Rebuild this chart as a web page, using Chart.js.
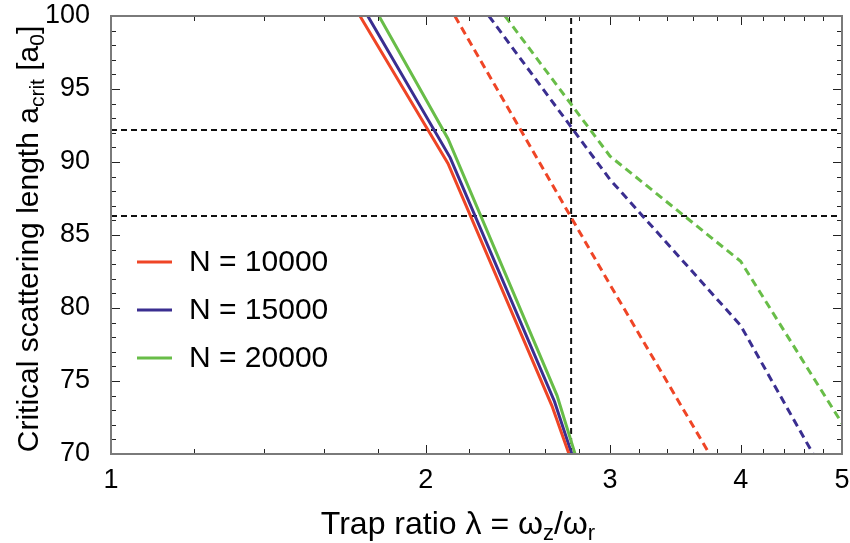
<!DOCTYPE html>
<html>
<head>
<meta charset="utf-8">
<script src="https://cdn.jsdelivr.net/npm/chart.js@4.4.0/dist/chart.umd.min.js"></script>
<style>
  html, body { margin: 0; padding: 0; background: #fff; }
</style>
</head>
<body>
<canvas id="chart" width="850" height="543"></canvas>
<script>
// Critical scattering length vs trap ratio, for three atom numbers
var seriesNames = ['N = 10000', 'N = 15000', 'N = 20000'];
var seriesColors = ['#ef4526', '#3a2e90', '#68bd48'];

// solid curves
var solid10kX = [1.73, 2.10, 2.64, 2.741];
var solid10kY = [100, 89.9, 73.3, 70];
var solid15kX = [1.76, 2.11, 2.655, 2.758];
var solid15kY = [100, 90.3, 73.6, 70];
var solid20kX = [1.804, 2.10, 2.67, 2.778];
var solid20kY = [100, 91.6, 74.0, 70];

// dashed curves
var dashed10kX = [2.132, 3, 3.735];
var dashed10kY = [100, 81.6, 70];
var dashed15kX = [2.298, 3, 4, 4.692];
var dashed15kY = [100, 88.8, 78.8, 70];
var dashed20kX = [2.381, 3, 4, 5];
var dashed20kY = [100, 90.4, 83.2, 72.1];

// guide lines
var guideLevels = [92.2, 86.3];
var guideLambda = 2.754;

// axis ticks
var xMajorTicks = [1, 2, 3, 4, 5];
var xMinorTicks = [1.2, 1.4, 1.6, 1.8, 2.2, 2.4, 2.6, 2.8, 3.2, 3.4, 3.6, 3.8, 4.2, 4.4, 4.6, 4.8];
var yMajorTicks = [70, 75, 80, 85, 90, 95, 100];

var FONT = '"Liberation Sans", Arial, Helvetica, sans-serif';

function toPoints(xs, ys) {
  return xs.map(function (x, i) { return { x: x, y: ys[i] }; });
}

function curve(xs, ys, color, dashed) {
  return {
    data: toPoints(xs, ys),
    borderColor: color,
    borderWidth: 3,
    borderDash: dashed ? [8, 5] : [],
    pointRadius: 0,
    tension: 0,
    clip: 0
  };
}

function guide(points) {
  return {
    data: points,
    borderColor: '#111',
    borderWidth: 2,
    borderDash: [6, 4],
    pointRadius: 0,
    clip: 0
  };
}

var datasets = [
  curve(solid10kX, solid10kY, seriesColors[0], false),
  curve(solid15kX, solid15kY, seriesColors[1], false),
  curve(solid20kX, solid20kY, seriesColors[2], false),
  curve(dashed10kX, dashed10kY, seriesColors[0], true),
  curve(dashed15kX, dashed15kY, seriesColors[1], true),
  curve(dashed20kX, dashed20kY, seriesColors[2], true),
  guide([{ x: 1, y: guideLevels[0] }, { x: 5, y: guideLevels[0] }]),
  guide([{ x: 1, y: guideLevels[1] }, { x: 5, y: guideLevels[1] }]),
  guide([{ x: guideLambda, y: 70 }, { x: guideLambda, y: 100 }])
];

// draws text pieces in a row, smaller pieces dropped as subscripts
function drawRich(ctx, parts, x, y) {
  parts.forEach(function (p) {
    ctx.font = p[1] + 'px ' + FONT;
    ctx.fillText(p[0], x, y + p[2]);
    x += ctx.measureText(p[0]).width;
  });
}

function richWidth(ctx, parts) {
  var w = 0;
  parts.forEach(function (p) { ctx.font = p[1] + 'px ' + FONT; w += ctx.measureText(p[0]).width; });
  return w;
}

// frame with inward ticks, axis titles and legend
var decorations = {
  id: 'decorations',
  afterDatasetsDraw: function (chart) {
    var ctx = chart.ctx;
    var a = chart.chartArea;
    var xs = chart.scales.x;
    var ys = chart.scales.y;
    ctx.save();

    ctx.strokeStyle = '#222';
    ctx.lineWidth = 1;
    ctx.beginPath();
    function xTick(v, len) {
      var px = Math.round(xs.getPixelForValue(v)) + 0.5;
      ctx.moveTo(px, a.bottom); ctx.lineTo(px, a.bottom - len);
      ctx.moveTo(px, a.top); ctx.lineTo(px, a.top + len);
    }
    function yTick(v, len) {
      var py = Math.round(ys.getPixelForValue(v)) + 0.5;
      ctx.moveTo(a.left, py); ctx.lineTo(a.left + len, py);
      ctx.moveTo(a.right, py); ctx.lineTo(a.right - len, py);
    }
    xMajorTicks.forEach(function (v) { xTick(v, 9); });
    xMinorTicks.forEach(function (v) { xTick(v, 5); });
    for (var v = 70; v <= 100; v++) {
      yTick(v, yMajorTicks.indexOf(v) >= 0 ? 9 : 5);
    }
    ctx.stroke();

    ctx.strokeStyle = '#7a7a7a';
    ctx.lineWidth = 2;
    ctx.strokeRect(a.left, a.top, a.right - a.left, a.bottom - a.top);

    // legend
    ctx.font = '30px ' + FONT;
    ctx.textBaseline = 'middle';
    ctx.textAlign = 'left';
    seriesNames.forEach(function (name, i) {
      var y = 262 + i * 48;
      ctx.strokeStyle = seriesColors[i];
      ctx.lineWidth = 3;
      ctx.beginPath();
      ctx.moveTo(137, y); ctx.lineTo(172, y);
      ctx.stroke();
      ctx.fillStyle = '#000';
      ctx.fillText(name, 189, y + 1);
    });

    // x title: Trap ratio λ = ωz/ωr
    ctx.fillStyle = '#000';
    ctx.textBaseline = 'alphabetic';
    var xparts = [
      ['Trap ratio \u03bb = \u03c9', 32, 0],
      ['z', 22, 6],
      ['/\u03c9', 32, 0],
      ['r', 22, 6]
    ];
    drawRich(ctx, xparts, 458 - richWidth(ctx, xparts) / 2, 534);

    // y title: Critical scattering length a_crit [a_0]
    ctx.save();
    ctx.translate(38, 239);
    ctx.rotate(-Math.PI / 2);
    var yparts = [
      ['Critical scattering length a', 30, 0],
      ['crit', 21, 6],
      [' [a', 30, 0],
      ['0', 21, 6],
      [']', 30, 0]
    ];
    drawRich(ctx, yparts, -richWidth(ctx, yparts) / 2, 0);
    ctx.restore();

    ctx.restore();
  }
};

new Chart(document.getElementById('chart'), {
  type: 'line',
  data: { datasets: datasets },
  plugins: [decorations],
  options: {
    responsive: false,
    animation: false,
    layout: { padding: { top: 16, right: 8, left: 0, bottom: 0 } },
    plugins: { legend: { display: false }, tooltip: { enabled: false } },
    scales: {
      x: {
        type: 'logarithmic',
        min: 1,
        max: 5,
        grid: { display: false },
        border: { display: false },
        afterBuildTicks: function (scale) {
          scale.ticks = xMajorTicks.map(function (v) { return { value: v }; });
        },
        afterFit: function (scale) {
          scale.height = 89;
          scale.paddingLeft = 0;
          scale.paddingRight = 0;
        },
        ticks: {
          color: '#000',
          padding: 2,
          maxRotation: 0,
          autoSkip: false,
          font: { family: FONT, size: 27 },
          callback: function (v) { return String(v); }
        }
      },
      y: {
        type: 'linear',
        min: 70,
        max: 100,
        grid: { display: false },
        border: { display: false },
        afterBuildTicks: function (scale) {
          scale.ticks = yMajorTicks.map(function (v) { return { value: v }; });
        },
        afterFit: function (scale) {
          scale.width = 111;
          scale.paddingTop = 0;
          scale.paddingBottom = 0;
        },
        ticks: {
          color: '#000',
          padding: 13,
          font: { family: FONT, size: 27 }
        }
      }
    }
  }
});
</script>
</body>
</html>
